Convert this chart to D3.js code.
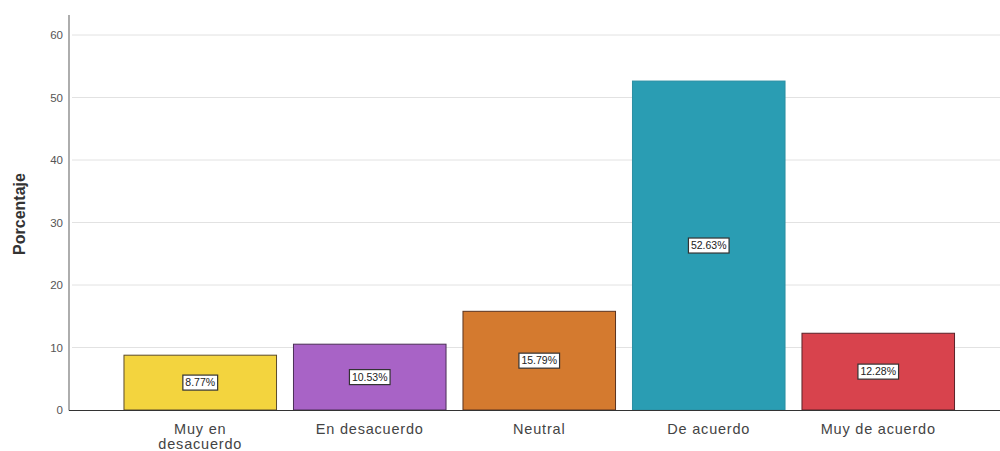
<!DOCTYPE html>
<html><head><meta charset="utf-8">
<script src="https://cdn.jsdelivr.net/npm/d3@7"></script>
<style>body{margin:0;background:#fff}svg{display:block;font-family:"Liberation Sans",Arial,sans-serif}</style>
</head><body><svg id="c" width="1000" height="451"></svg>
<script>
const categories = ["Muy en desacuerdo", "En desacuerdo", "Neutral", "De acuerdo", "Muy de acuerdo"];
const categoryLines = [["Muy en", "desacuerdo"], ["En desacuerdo"], ["Neutral"], ["De acuerdo"], ["Muy de acuerdo"]];
const values = [8.77, 10.53, 15.79, 52.63, 12.28];
const valueLabels = ["8.77%", "10.53%", "15.79%", "52.63%", "12.28%"];
const colors = ["#f3d43e", "#a863c6", "#d47a2f", "#2a9db3", "#d8434d"];
const strokes = ["#5b4a2a", "#4a2f55", "#5a3320", "#2a8fa3", "#5a2228"];
const yTicks = [0, 10, 20, 30, 40, 50, 60];

const svg = d3.select("#c");
const y = d3.scaleLinear().domain([0, 60]).range([410, 35]);
const x = d3.scaleBand().domain(categories).range([115.5, 963]).paddingInner(0.1).paddingOuter(0.05);

// gridlines
svg.append("g").selectAll("line").data(yTicks.filter(d => d > 0)).join("line")
  .attr("x1", 72).attr("x2", 1000).attr("y1", d => y(d)).attr("y2", d => y(d))
  .attr("stroke", "#e2e2e2").attr("stroke-width", 1);

// y axis
const ya = svg.append("g").attr("transform", "translate(69,0)")
  .call(d3.axisLeft(y).tickValues(yTicks).tickSize(0).tickPadding(6));
ya.select(".domain").remove();
ya.selectAll("text").attr("font-size", 11.5).attr("fill", "#555").attr("font-family", "Liberation Sans, Arial, sans-serif");
svg.append("line").attr("x1", 69).attr("x2", 69).attr("y1", 15).attr("y2", 410.5).attr("stroke", "#777").attr("stroke-width", 1.2);

// bars
svg.append("g").selectAll("rect").data(categories).join("rect")
  .attr("x", d => x(d)).attr("width", x.bandwidth())
  .attr("y", (d, i) => y(values[i])).attr("height", (d, i) => y(0) - y(values[i]))
  .attr("fill", (d, i) => colors[i]).attr("stroke", (d, i) => strokes[i]).attr("stroke-width", 1);

// x axis line
svg.append("line").attr("x1", 69).attr("x2", 1000).attr("y1", 410.5).attr("y2", 410.5).attr("stroke", "#333").attr("stroke-width", 1.2);

// value labels
const lg = svg.append("g").selectAll("g").data(categories).join("g")
  .attr("transform", (d, i) => `translate(${x(d) + x.bandwidth() / 2},${(y(values[i]) + y(0)) / 2})`);
lg.append("text").text((d, i) => valueLabels[i]).attr("text-anchor", "middle").attr("dy", "0.36em")
  .attr("font-size", 10.5).attr("fill", "#222");
lg.each(function() {
  const g = d3.select(this);
  const b = g.select("text").node().getBBox();
  g.insert("rect", "text").attr("x", b.x - 2.5).attr("y", -7.5).attr("width", b.width + 5).attr("height", 15)
    .attr("fill", "#fff").attr("stroke", "#333").attr("stroke-width", 1.2);
});

// category labels
const cl = svg.append("g").selectAll("text").data(categories).join("text")
  .attr("x", d => x(d) + x.bandwidth() / 2).attr("y", 434).attr("text-anchor", "middle")
  .attr("font-size", 14.5).attr("letter-spacing", 0.8).attr("fill", "#444");
cl.each(function(d, i) {
  const t = d3.select(this);
  categoryLines[i].forEach((ln, j) => t.append("tspan").attr("x", x(d) + x.bandwidth() / 2).attr("dy", j ? 14.5 : 0).text(ln));
});

// y title
svg.append("text").attr("transform", "translate(25,214) rotate(-90)").attr("text-anchor", "middle")
  .attr("font-size", 16).attr("font-weight", "bold").attr("fill", "#333").text("Porcentaje");
</script></body></html>
